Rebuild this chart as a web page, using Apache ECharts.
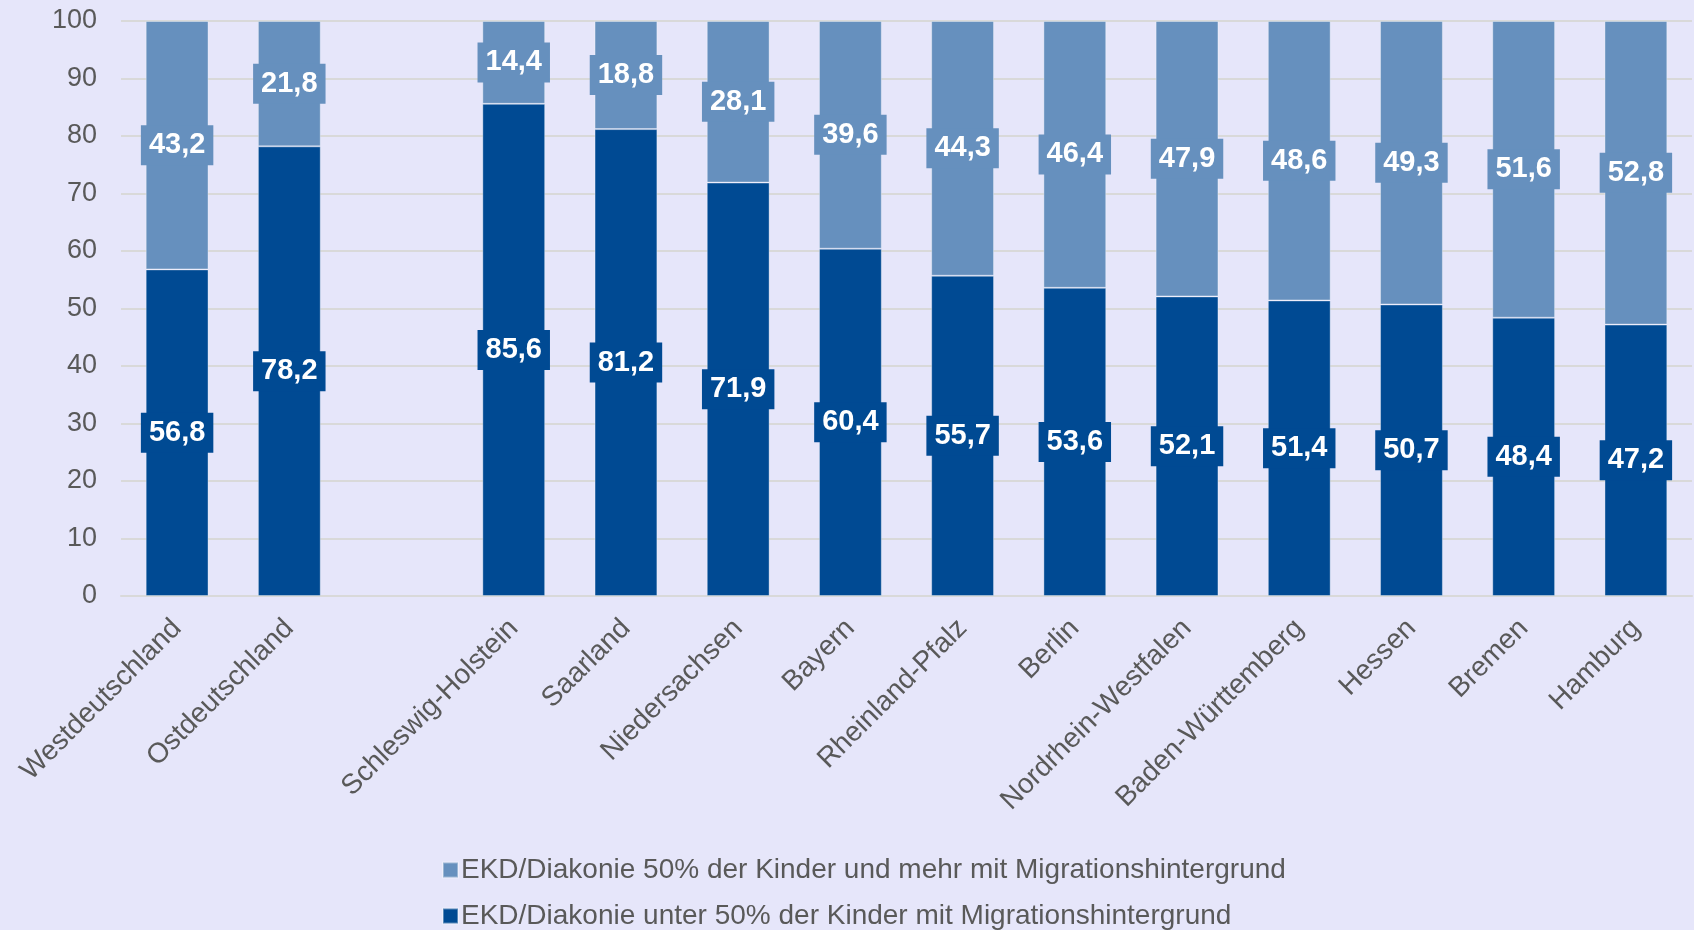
<!DOCTYPE html>
<html>
<head>
<meta charset="utf-8">
<script src="https://cdn.jsdelivr.net/npm/echarts@6/dist/echarts.min.js"></script>
<style>
  html, body { margin: 0; padding: 0; background: #E6E6FA; }
  #chart { width: 1694px; height: 930px; }
</style>
</head>
<body>
<div id="chart"></div>
<script>
const categories = ['Westdeutschland', 'Ostdeutschland', '', 'Schleswig-Holstein', 'Saarland', 'Niedersachsen',
    'Bayern', 'Rheinland-Pfalz', 'Berlin', 'Nordrhein-Westfalen', 'Baden-Württemberg', 'Hessen', 'Bremen', 'Hamburg'];
const unter50 = [56.8, 78.2, '-', 85.6, 81.2, 71.9, 60.4, 55.7, 53.6, 52.1, 51.4, 50.7, 48.4, 47.2];
const ab50 = [43.2, 21.8, '-', 14.4, 18.8, 28.1, 39.6, 44.3, 46.4, 47.9, 48.6, 49.3, 51.6, 52.8];
const yTicks = { min: 0, max: 100, interval: 10 };

const nameAb50 = 'EKD/Diakonie 50% der Kinder und mehr mit Migrationshintergrund';
const nameUnter50 = 'EKD/Diakonie unter 50% der Kinder mit Migrationshintergrund';

const fontFam = '"Liberation Sans", Arial, sans-serif';

// Label im Balken mit farbigem Kasten
const makeLabel = (bg) => ({
    show: true,
    position: 'inside',
    color: '#fff',
    fontWeight: 'bold',
    fontSize: 29,
    fontFamily: fontFam,
    backgroundColor: bg,
    padding: [7, 8, 4, 8],
    formatter: (p) => String(p.value).replace('.', ',')
});

// eine Legende pro Zeile
const makeLegend = (name, top) => ({
    left: 437,
    top: top,
    itemWidth: 15,
    itemHeight: 15,
    icon: 'rect',
    textStyle: { color: '#595959', fontSize: 28, fontFamily: fontFam, padding: [0, 0, 0, -2] },
    data: [name]
});

const chart = echarts.init(document.getElementById('chart'));

chart.setOption({
    backgroundColor: '#E6E6FA',
    animation: false,
    grid: { left: 121, right: 2, top: 21, bottom: 334 },
    legend: [makeLegend(nameAb50, 851), makeLegend(nameUnter50, 897)],
    xAxis: {
        type: 'category',
        data: categories,
        axisLine: { lineStyle: { color: '#D9D9D9', width: 2 } },
        axisTick: { show: false },
        axisLabel: {
            interval: 0,
            rotate: 45,
            margin: 28,
            color: '#595959',
            fontSize: 28,
            fontFamily: fontFam
        }
    },
    yAxis: {
        type: 'value',
        min: yTicks.min,
        max: yTicks.max,
        interval: yTicks.interval,
        axisLine: { show: false },
        axisTick: { show: false },
        splitLine: { lineStyle: { color: '#D9D9D9', width: 2 } },
        axisLabel: { color: '#595959', fontSize: 27, fontFamily: fontFam, margin: 24 }
    },
    series: [
        {
            name: nameUnter50,
            type: 'bar',
            stack: 'gesamt',
            barWidth: '56%',
            data: unter50,
            itemStyle: { color: '#004A93', borderColor: 'rgba(255,255,255,0.35)', borderWidth: 1 },
            label: makeLabel('#004A93')
        },
        {
            name: nameAb50,
            type: 'bar',
            stack: 'gesamt',
            barWidth: '56%',
            data: ab50,
            itemStyle: { color: '#6690BE', borderColor: 'rgba(255,255,255,0.35)', borderWidth: 1 },
            label: makeLabel('#6690BE')
        }
    ]
});
</script>
</body>
</html>
